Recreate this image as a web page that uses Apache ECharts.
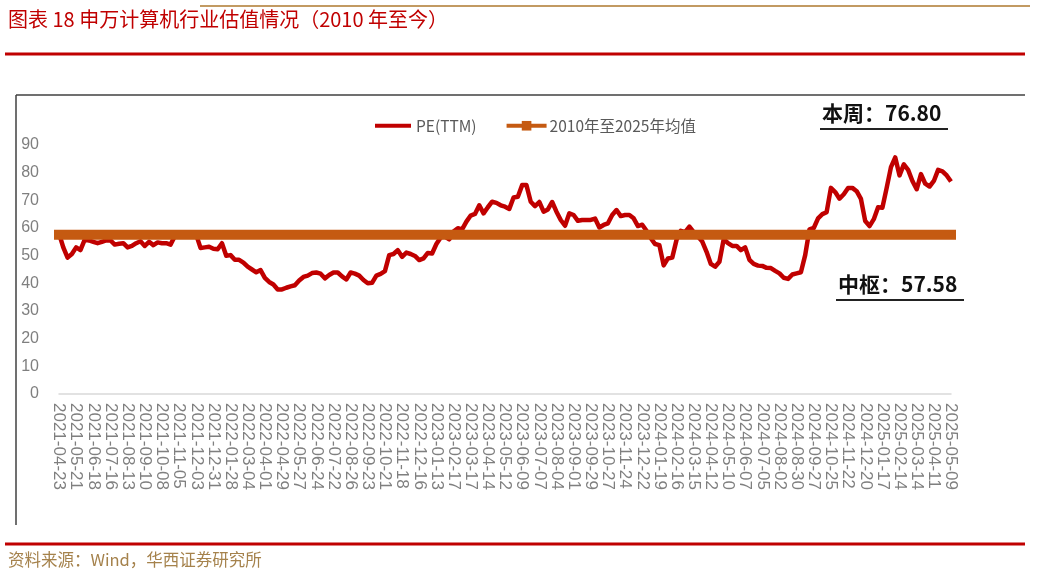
<!DOCTYPE html>
<html>
<head>
<meta charset="utf-8">
<script src="https://cdn.jsdelivr.net/npm/echarts@6/dist/echarts.min.js"></script>
<style>
  html, body { margin: 0; padding: 0; background: #fff; }
  #chart { width: 1053px; height: 577px; }
</style>
</head>
<body>
<div id="chart"></div>
<script>
// tick labels shown on the x axis (every 4th trading week)
const tickLabels = [
  '2021-04-23', '2021-05-21', '2021-06-18', '2021-07-16', '2021-08-13', '2021-09-10',
  '2021-10-08', '2021-11-05', '2021-12-03', '2021-12-31', '2022-01-28', '2022-03-04',
  '2022-04-01', '2022-04-29', '2022-05-27', '2022-06-24', '2022-07-22', '2022-08-26',
  '2022-09-23', '2022-10-21', '2022-11-18', '2022-12-16', '2023-01-13', '2023-02-17',
  '2023-03-17', '2023-04-14', '2023-05-12', '2023-06-09', '2023-07-07', '2023-08-04',
  '2023-09-01', '2023-09-29', '2023-10-27', '2023-11-24', '2023-12-22', '2024-01-19',
  '2024-02-16', '2024-03-15', '2024-04-12', '2024-05-10', '2024-06-07', '2024-07-05',
  '2024-08-02', '2024-08-30', '2024-09-27', '2024-10-25', '2024-11-22', '2024-12-20',
  '2025-01-17', '2025-02-14', '2025-03-14', '2025-04-11', '2025-05-09'
]

// weekly PE(TTM)
const peValues = [
  58, 53, 49.3, 50.6, 53, 52, 55.8, 55.5, 55, 54.5,
  55, 55.5, 55.5, 54, 54.3, 54.5, 53, 53.5, 54.5, 55.2,
  53.5, 55, 53.8, 54.8, 54.5, 54.5, 54, 57, 58, 58.5,
  58.3, 58, 57.5, 52.8, 53, 53.2, 52.5, 52.3, 54.5, 50,
  50.2, 48.5, 48.5, 47.5, 46, 45, 44, 44.8, 42, 40.5,
  39.6, 37.8, 37.8, 38.4, 38.9, 39.3, 41, 42.3, 42.8, 43.7,
  43.9, 43.5, 41.8, 43, 43.9, 43.9, 42.5, 41.4, 43.9, 43.5,
  42.8, 41.2, 40, 40.2, 42.8, 43.4, 44.4, 50.2, 50.6, 52,
  49.6, 51.1, 50.6, 49.9, 48.4, 49, 51, 50.8, 54.2, 56.6,
  56.9, 55.9, 58.7, 59.9, 59.5, 62.3, 64.5, 65.1, 68.2, 65.3,
  67.5, 69.5, 69.1, 68.2, 67.7, 66.9, 71, 71.3, 75.5, 75.5,
  69.5, 67.9, 69.4, 65.9, 66.7, 69.4, 65.9, 62.9, 60.8, 65.3,
  64.7, 62.6, 62.9, 62.9, 62.9, 63.4, 60.2, 61.1, 61.7, 64.7,
  66.5, 64.3, 64.7, 64.7, 63.5, 60.7, 61.2, 59, 56.3, 54.2,
  53.8, 46.5, 49, 49.3, 55.7, 59, 58.5, 60.5, 58.5, 56.9,
  55.1, 51.4, 47, 46, 47.8, 56, 54.5, 53.5, 53.5, 52,
  53, 48.5, 47, 46.4, 46.3, 45.6, 45.5, 44.5, 43.6, 42,
  41.6, 43.2, 43.6, 44, 50.2, 59.5, 60, 63.5, 65, 65.7,
  74.5, 73, 70.6, 72.2, 74.5, 74.5, 73.3, 70.5, 62.5, 60.7,
  63.2, 67.5, 67.3, 74.5, 82, 85.5, 79, 83, 81, 77,
  74, 79.5, 76, 75, 77, 81, 80.5, 79, 76.8
]

const meanValue = 57.58
const currentValue = 76.80
const yTicks = [0, 10, 20, 30, 40, 50, 60, 70, 80, 90]

// fill in the weeks between the labelled ticks
const categories = peValues.map((v, i) => {
  const base = tickLabels[Math.floor(i / 4)]
  if (i % 4 === 0) return base
  const d = new Date(base + 'T00:00:00Z')
  d.setUTCDate(d.getUTCDate() + 7 * (i % 4))
  return d.toISOString().slice(0, 10)
})
const meanValues = peValues.map(() => meanValue)

const chart = echarts.init(document.getElementById('chart'))
const cjk = '"Noto Sans CJK SC", sans-serif'
const latin = '"Liberation Sans", Arial, sans-serif'

chart.setOption({
  animation: false,
  backgroundColor: '#fff',
  grid: { left: 59, right: 102, top: 145, bottom: 183 },
  legend: {
    left: 368,
    top: 113,
    itemWidth: 36,
    itemHeight: 12,
    itemGap: 30,
    textStyle: { color: '#595959', fontSize: 15.5, fontFamily: cjk },
    data: [
      { name: 'PE(TTM)', lineStyle: { width: 4 }, itemStyle: { opacity: 0 } },
      { name: '2010年至2025年均值', lineStyle: { width: 4 } }
    ]
  },
  xAxis: {
    type: 'category',
    boundaryGap: false,
    data: categories,
    axisLine: { lineStyle: { color: '#d9d9d9', width: 1.5 } },
    axisTick: { show: false },
    axisLabel: {
      interval: 3,
      rotate: -90,
      margin: 9,
      color: '#7f7f7f',
      fontSize: 17,
      fontFamily: latin
    }
  },
  yAxis: {
    type: 'value',
    min: yTicks[0],
    max: yTicks[yTicks.length - 1],
    interval: 10,
    splitLine: { show: false },
    axisLine: { show: false },
    axisTick: { show: false },
    axisLabel: { margin: 20, color: '#7f7f7f', fontSize: 16, fontFamily: latin }
  },
  series: [
    {
      name: 'PE(TTM)',
      type: 'line',
      data: peValues,
      symbol: 'none',
      color: '#c00000',
      lineStyle: { color: '#c00000', width: 4.5, join: 'round' },
      z: 2
    },
    {
      name: '2010年至2025年均值',
      type: 'line',
      data: meanValues,
      symbol: 'rect',
      symbolSize: 10,
      showSymbol: false,
      color: '#c55a11',
      lineStyle: { color: '#c55a11', width: 10, cap: 'square' },
      z: 3
    }
  ],
  graphic: [
    { type: 'line', shape: { x1: 200, y1: 6, x2: 1030, y2: 6 }, style: { stroke: '#c29a62', lineWidth: 2 } },
    {
      type: 'text', left: 8, top: 9,
      style: { text: '图表 18 申万计算机行业估值情况（2010 年至今）', fill: '#c00000', font: '20px ' + cjk }
    },
    { type: 'line', shape: { x1: 5, y1: 54, x2: 1025, y2: 54 }, style: { stroke: '#c00000', lineWidth: 3 } },
    { type: 'line', shape: { x1: 16, y1: 95, x2: 1025, y2: 95 }, style: { stroke: '#404040', lineWidth: 1.5 } },
    { type: 'line', shape: { x1: 16, y1: 95, x2: 16, y2: 525 }, style: { stroke: '#404040', lineWidth: 1.5 } },
    {
      type: 'text', left: 822, top: 103,
      style: { text: '本周：' + currentValue.toFixed(2), fill: '#111', font: 'bold 21px ' + cjk }
    },
    { type: 'line', shape: { x1: 820, y1: 129, x2: 948, y2: 129 }, style: { stroke: '#222', lineWidth: 2 } },
    {
      type: 'text', left: 838, top: 274,
      style: { text: '中枢：' + meanValue.toFixed(2), fill: '#111', font: 'bold 21px ' + cjk }
    },
    { type: 'line', shape: { x1: 836, y1: 300, x2: 964, y2: 300 }, style: { stroke: '#222', lineWidth: 2 } },
    { type: 'line', shape: { x1: 5, y1: 544, x2: 1025, y2: 544 }, style: { stroke: '#c00000', lineWidth: 3 } },
    {
      type: 'text', left: 8, top: 551,
      style: { text: '资料来源：Wind，华西证券研究所', fill: '#a5824c', font: '16.5px ' + cjk }
    }
  ]
})
</script>
</body>
</html>
